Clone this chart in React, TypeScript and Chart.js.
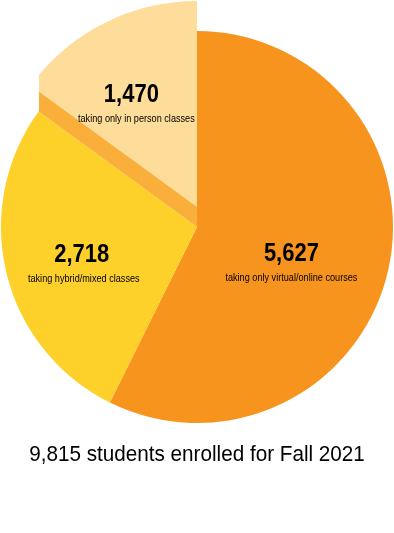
import { useEffect, useRef } from "react";
import { Chart, registerables } from "chart.js";

Chart.register(...registerables);

const categories = [
  "taking only virtual/online courses",
  "taking hybrid/mixed classes",
  "taking only in person classes",
];
const values = [5627, 2718, 1470];
const valueLabels = ["5,627", "2,718", "1,470"];
const totalLabel = "9,815 students enrolled for Fall 2021";
const sliceColors = ["#F7941E", "#FDD02A", "#FAAF3C"];
const raisedColor = "#FEDD9A";

const FONT = "'Liberation Sans', Arial, sans-serif";

function drawCondensed(ctx: CanvasRenderingContext2D, text: string, x: number, y: number, font: string, sx: number) {
  ctx.save();
  ctx.font = font;
  ctx.textAlign = "center";
  ctx.textBaseline = "middle";
  ctx.translate(x, y);
  ctx.scale(sx, 1);
  ctx.fillStyle = "#000";
  ctx.fillText(text, 0, 0);
  ctx.restore();
}

const raisedPlugin = {
  id: "raisedSlice",
  afterDatasetsDraw(chart: any) {
    const meta = chart.getDatasetMeta(0);
    const arc: any = meta.data[2];
    if (!arc) return;
    const ctx = chart.ctx as CanvasRenderingContext2D;
    const R = arc.outerRadius;
    const lift = R * 0.102;
    const grow = 0.051;
    const clipX = arc.x - R * 0.806;
    ctx.save();
    ctx.beginPath();
    ctx.rect(clipX, 0, chart.width, chart.height);
    ctx.clip();
    const steps = 24;
    for (let i = 1; i <= steps; i++) {
      const t = i / steps;
      const clone = Object.assign(Object.create(Object.getPrototypeOf(arc)), arc);
      clone.options = { ...arc.options, backgroundColor: i === steps ? raisedColor : sliceColors[2] };
      clone.y = arc.y - lift * t;
      clone.outerRadius = R * (1 + grow * t);
      clone.draw(ctx);
    }
    ctx.restore();
  },
  afterDraw(chart: any) {
    const meta = chart.getDatasetMeta(0);
    const ctx = chart.ctx as CanvasRenderingContext2D;
    const fracs = [0.5, 0.6, 0.66];
    const shiftX = [-1, -1, -7];
    const shiftY = [5, 0, 3];
    const subShiftX = [0, 2, 5];
    meta.data.forEach((arc: any, i: number) => {
      const R = arc.outerRadius;
      const mid = (arc.startAngle + arc.endAngle) / 2;
      const lift = i === 2 ? R * 0.102 : 0;
      const x = arc.x + Math.cos(mid) * R * fracs[i] + shiftX[i];
      const y = arc.y - lift + Math.sin(mid) * R * fracs[i] + shiftY[i];
      drawCondensed(ctx, valueLabels[i], x, y, `bold 25px ${FONT}`, 0.88);
      drawCondensed(ctx, categories[i], x + subShiftX[i], y + 24, `10.5px ${FONT}`, 0.87);
    });
    const a: any = meta.data[0];
    drawCondensed(ctx, totalLabel, a.x, a.y + a.outerRadius + 32, `22px ${FONT}`, 0.94);
  },
};

export default function App() {
  const ref = useRef<HTMLCanvasElement | null>(null);
  useEffect(() => {
    if (!ref.current) return;
    const chart = new Chart(ref.current, {
      type: "pie",
      data: {
        labels: categories,
        datasets: [
          {
            data: values,
            backgroundColor: sliceColors,
            borderWidth: 0,
            hoverOffset: 0,
            offset: 0,
          },
        ],
      },
      options: {
        animation: false,
        responsive: false,
        devicePixelRatio: 1,
        layout: { padding: { top: 31, bottom: 110, left: 1, right: 1 } },
        plugins: {
          legend: { display: false },
          tooltip: { enabled: false },
        },
        events: [],
      },
      plugins: [raisedPlugin],
    });
    return () => chart.destroy();
  }, []);
  return (
    <div style={{ position: "fixed", left: 0, top: 0, width: 394, height: 533, background: "#fff" }}>
      <canvas ref={ref} width={394} height={533} style={{ display: "block" }} />
    </div>
  );
}
